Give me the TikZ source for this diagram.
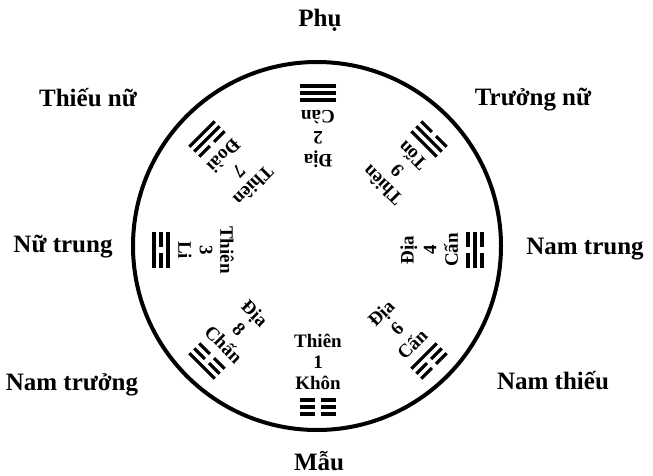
\documentclass[tikz,border=0pt]{standalone}
\usepackage{fontspec}
\setmainfont{Liberation Serif}

\tikzset{
  nome/.style={font=\bfseries\fontsize{25}{28}\selectfont, inner sep=0pt},
  testo/.style={font=\bfseries\fontsize{19}{20}\selectfont, inner sep=0pt},
  yao/.style={line width=3.2pt},
  gruppo/.style={shift={(318,225)}, rotate=#1, transform shape}
}
% linee dei trigrammi
\newcommand{\yang}[1]{\draw[yao] (-18,#1) -- (18,#1);}
\newcommand{\yin}[1]{\draw[yao] (-18,#1) -- (-3,#1) (3,#1) -- (18,#1);}

\begin{document}
\begin{tikzpicture}[x=1pt, y=1pt]
\useasboundingbox (0,0) rectangle (653,475);

% Cerchio
\draw[line width=4pt] (317,229) circle[radius=184];

% Nomi esterni
\node[nome] (phu) at (320,455) {Phụ};
\node[nome] (truongnu) at (533,375) {Trưởng nữ};
\node[nome] (namtrung) at (585,226) {Nam trung};
\node[nome] (namthieu) at (553,94) {Nam thiếu};
\node[nome] (mau) at (319,14) {Mẫu};
\node[nome] (namtruong) at (72,90) {Nam trưởng};
\node[nome] (nutrung) at (63,228) {Nữ trung};
\node[nome] (thieunu) at (88,377) {Thiếu nữ};

% Khôn (sud)
\begin{scope}[gruppo=0]
  \node[testo] (khon-a) at (0,-91) {Thiên};
  \node[testo] (khon-n) at (0,-112) {1};
  \node[testo] (khon-b) at (0,-133) {Khôn};
  \yin{-150} \yin{-157} \yin{-164}
\end{scope}

% Càn (nord)
\begin{scope}[gruppo=180]
  \node[testo] (can-a) at (0,-91) {Địa};
  \node[testo] (can-n) at (0,-112) {2};
  \node[testo] (can-b) at (0,-133) {Càn};
  \yang{-150} \yang{-157} \yang{-164}
\end{scope}

% Li (ovest)
\begin{scope}[gruppo=-90]
  \node[testo] (li-a) at (0,-91) {Thiên};
  \node[testo] (li-n) at (0,-112) {3};
  \node[testo] (li-b) at (0,-133) {Li};
  \yang{-150} \yin{-157} \yang{-164}
\end{scope}

% Khảm (est)
\begin{scope}[gruppo=90]
  \node[testo] (kham-a) at (0,-91) {Địa};
  \node[testo] (kham-n) at (0,-112) {4};
  \node[testo] (kham-b) at (0,-133) {Cấn};
  \yin{-150} \yang{-157} \yin{-164}
\end{scope}

% Tốn (nord-est)
\begin{scope}[gruppo=135]
  \node[testo] (ton-a) at (0,-91) {Thiên};
  \node[testo] (ton-n) at (0,-112) {9};
  \node[testo] (ton-b) at (0,-133) {Tốn};
  \yang{-150} \yang{-157} \yin{-164}
\end{scope}

% Đoài (nord-ovest)
\begin{scope}[gruppo=-135]
  \node[testo] (doai-a) at (0,-91) {Thiên};
  \node[testo] (doai-n) at (0,-112) {7};
  \node[testo] (doai-b) at (0,-133) {Đoài};
  \yin{-150} \yang{-157} \yang{-164}
\end{scope}

% Chấn (sud-ovest)
\begin{scope}[gruppo=-45]
  \node[testo] (chan-a) at (0,-91) {Địa};
  \node[testo] (chan-n) at (0,-112) {8};
  \node[testo] (chan-b) at (0,-133) {Chấn};
  \yin{-150} \yin{-157} \yang{-164}
\end{scope}

% Cấn (sud-est)
\begin{scope}[gruppo=45]
  \node[testo] (cansud-a) at (0,-91) {Địa};
  \node[testo] (cansud-n) at (0,-112) {6};
  \node[testo] (cansud-b) at (0,-133) {Cấn};
  \yang{-150} \yin{-157} \yin{-164}
\end{scope}
\end{tikzpicture}
\end{document}
